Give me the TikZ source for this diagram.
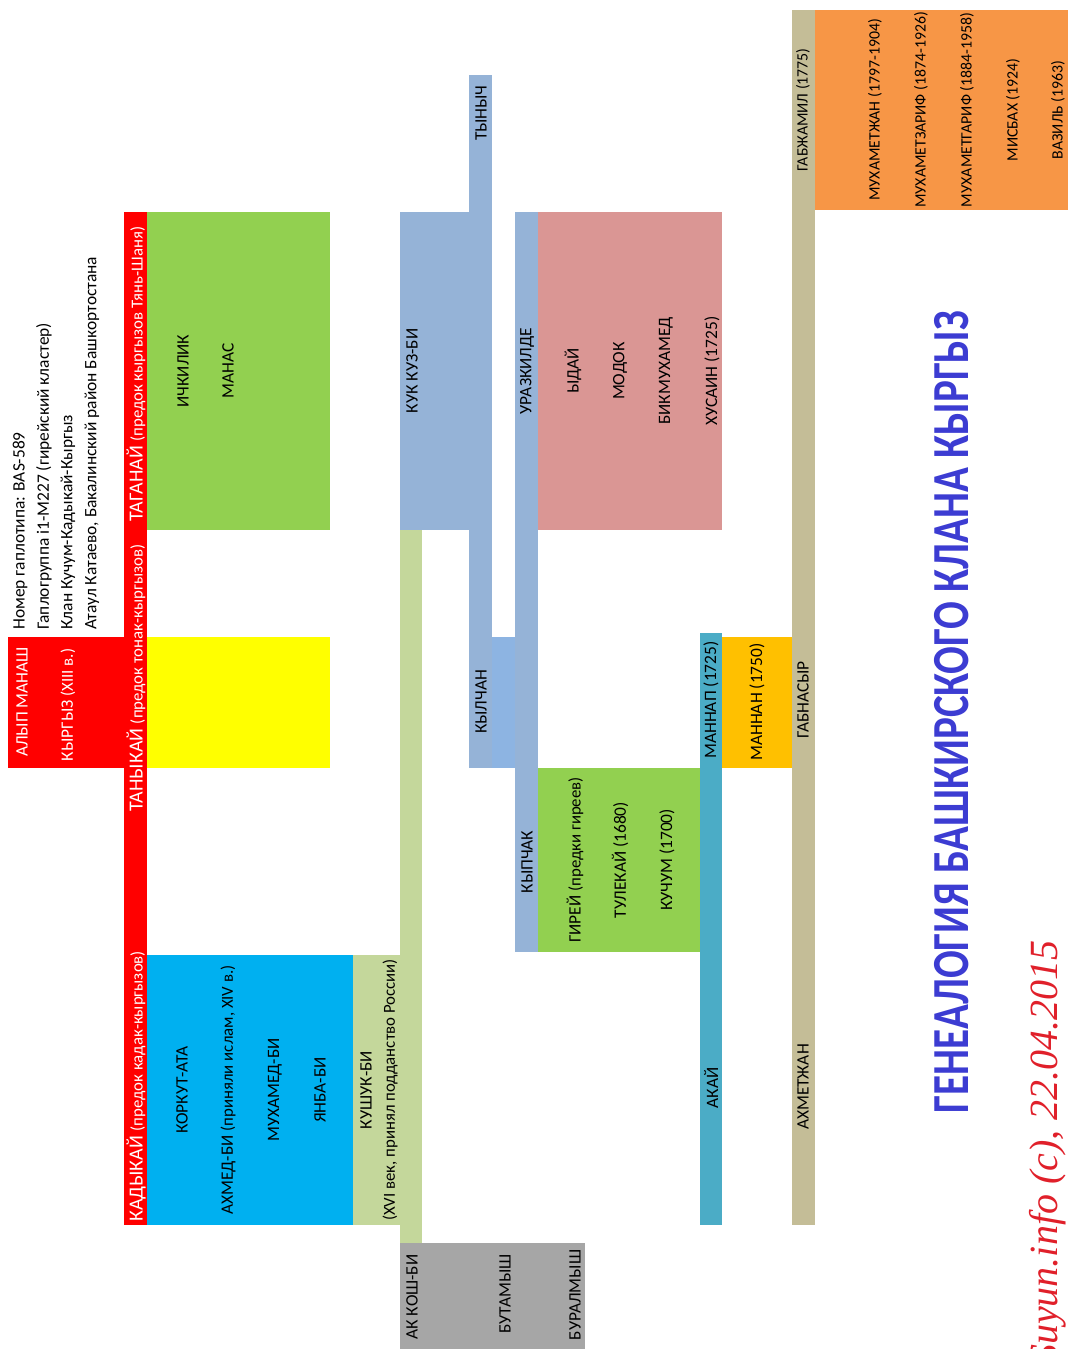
\documentclass[tikz,border=0pt]{standalone}
\usepackage{fontspec}
\setmainfont{Carlito}
\newfontfamily\signfont{Liberation Serif}

\definecolor{kred}{HTML}{FF0000}
\definecolor{kgreen}{HTML}{92D050}
\definecolor{kyellow}{HTML}{FFFF00}
\definecolor{kcyan}{HTML}{00B0F0}
\definecolor{kolive}{HTML}{C4D79B}
\definecolor{kgrey}{HTML}{A6A6A6}
\definecolor{kblue}{HTML}{95B3D7}
\definecolor{kblueb}{HTML}{8DB4E2}
\definecolor{kpink}{HTML}{DA9694}
\definecolor{kteal}{HTML}{4BACC6}
\definecolor{kamber}{HTML}{FFC000}
\definecolor{ktan}{HTML}{C4BD97}
\definecolor{korange}{HTML}{F79646}
\definecolor{ktitle}{HTML}{3C3CD2}
\definecolor{ksign}{HTML}{E0202A}

\newcommand\paren[1]{{\fontsize{8.4}{9}\selectfont #1}}

\begin{document}
\begin{tikzpicture}[x=0.5pt,y=-0.5pt,
	cell/.style={rotate=90,inner sep=0pt,font=\fontsize{8.7}{10}\selectfont},
	small/.style={cell,font=\fontsize{7.9}{9}\selectfont},
	onred/.style={cell,text=white}]
	\useasboundingbox (0,0) rectangle (1072,1349);
	% Blocks, as {left/top/right/bottom/colour}, in pixels of the sheet
	\foreach \xa/\ya/\xb/\yb/\col in {
			8/637/147/768/kred,% ALYP MANASH
			124/212/147/1225/kred,% main trunk
			147/212/330/530/kgreen,
			147/637/330/768/kyellow,
			147/955/353/1225/kcyan,
			353/955/400/1225/kolive,
			400/530/422/1243/kolive,
			400/1243/585/1349/kgrey,
			400/212/492/530/kblue,
			469/75/492/768/kblue,
			492/637/515/768/kblueb,
			515/212/538/952/kblue,
			538/212/722/530/kpink,
			538/768/700/952/kgreen,
			700/633/722/1225/kteal,
			722/637/792/768/kamber,
			792/10/815/1225/ktan,
			815/10/1068/210/korange}{
		\fill[\col] (\xa,\ya) rectangle (\xb,\yb);
	}
	% Header lines, read from the bottom
	\foreach \x/\t [count=\i] in {
			20/{Номер гаплотипа: BAS-589},
			44/{Гаплогруппа i1-M227 (гирейский кластер)},
			68/{Клан Кучум-Кадыкай-Кыргыз},
			92/{Атаул Катаево, Бакалинский район Башкортостана}}{
		\node[cell,anchor=west] (head\i) at (\x,630) {\t};
	}
	% White names on the red trunk
	\node[onred] (alyp) at (22,702) {АЛЫП МАНАШ};
	\node[onred] (kyrgyz) at (68,705) {КЫРГЫЗ \paren{(XIII в.)}};
	\node[onred,anchor=west,font=\fontsize{10}{11}\selectfont] (taganai) at (136,522) {ТАГАНАЙ \paren{(предок кыргызов Тянь-Шаня)}};
	\node[onred,anchor=west,font=\fontsize{10}{11}\selectfont] (tanykai) at (136,812) {ТАНЫКАЙ \paren{(предок тонак-кыргызов)}};
	\node[onred,anchor=west,font=\fontsize{10}{11}\selectfont] (kadykai) at (136,1222) {КАДЫКАЙ \paren{(предок кадак-кыргызов)}};
	% Names, centred in their cells
	\foreach \x/\y/\t [count=\i] in {
			183/371/ИЧКИЛИК, 228/371/МАНАС,
			182/1090/КОРКУТ-АТА,
			228/1090/{АХМЕД-БИ \paren{(приняли ислам, XIV в.)}},
			275/1090/МУХАМЕД-БИ, 320/1090/ЯНБА-БИ,
			366/1090/КУШУК-БИ,
			390/1090/{\paren{(XVI век, принял подданство России)}},
			412/371/КУК КУЗ-БИ,
			481/702/КЫЛЧАН,
			527/371/УРАЗКИЛДЕ, 527/862/КЫПЧАК,
			573/371/ЫДАЙ, 620/371/МОДОК, 666/371/БИКМУХАМЕД, 712/371/ХУСАИН (1725),
			575/860/{ГИРЕЙ \paren{(предки гиреев)}}, 620/860/ТУЛЕКАЙ (1680), 667/860/КУЧУМ (1700),
			711/700/МАННАП (1725), 711/1088/АКАЙ,
			757/702/МАННАН (1750),
			803/700/ГАБНАСЫР, 803/1087/АХМЕТЖАН,
			412/1297/АК КОШ-БИ, 505/1294/БУТАМЫШ, 575/1295/БУРАЛМЫШ}{
		\node[cell] (name\i) at (\x,\y) {\t};
	}
	\node[cell,anchor=east] (tynych) at (481,85) {ТЫНЫЧ};
	% Last generations, a little smaller
	\foreach \x/\t [count=\i] in {
			803/ГАБЖАМИЛ (1775),
			875/МУХАМЕТЖАН (1797-1904),
			921/МУХАМЕТЗАРИФ (1874-1926),
			967/МУХАМЕТГАРИФ (1884-1958),
			1013/МИСБАХ (1924), 1058/ВАЗИЛЬ (1963)}{
		\node[small] (last\i) at (\x,110) {\t};
	}
	% Title and signature
	\node[rotate=90,inner sep=0pt,text=ktitle,font=\bfseries\fontsize{26}{30}\selectfont] (title) at (952,712) {\scalebox{0.79}[1]{ГЕНЕАЛОГИЯ БАШКИРСКОГО КЛАНА КЫРГЫЗ}};
	\node[rotate=90,inner sep=0pt,anchor=east,text=ksign,font=\signfont\itshape\fontsize{20}{24}\selectfont] (sign) at (1048,940) {Suyun.info (c), 22.04.2015};
\end{tikzpicture}
\end{document}
